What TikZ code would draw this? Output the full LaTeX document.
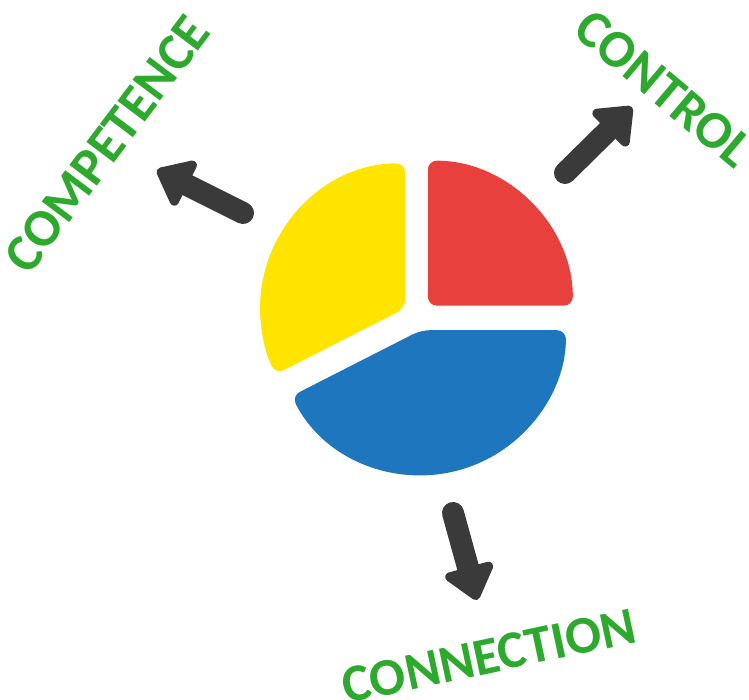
\documentclass[tikz,border=0pt]{standalone}
\usepackage{fontspec}
\setmainfont{Carlito}
\usepackage{xcolor}
\usepackage{tikz}
\usetikzlibrary{arrows.meta,positioning,calc}

\definecolor{pieyellow}{RGB}{255,228,0}
\definecolor{piered}{RGB}{232,64,60}
\definecolor{pieblue}{RGB}{30,118,190}
\definecolor{arrowgray}{RGB}{58,58,58}
\definecolor{labelgreen}{RGB}{45,170,45}

\tikzset{
    slice/.style={rounded corners=9pt},
    bigarrow/.style={draw=arrowgray, line width=22pt, line cap=round,
        -{Triangle[length=37pt,width=57pt,round]}},
    cword/.style={text=labelgreen, inner sep=0pt, font=\bfseries\fontsize{53}{53}\selectfont}
}

\begin{document}
\begin{tikzpicture}[x=1pt,y=1pt]
    \useasboundingbox (0,0) rectangle (749,700);

    % Exploded pie
    \coordinate (C) at (417.5,384);
    \foreach \col/\a/\b in {piered/0/90, pieyellow/90/207, pieblue/207/360}
        \fill[\col, slice] ($(C)+({(\a+\b)/2}:14.6)$) -- ++(\a:145)
            arc[start angle=\a, end angle=\b, radius=145] -- cycle;

    % Arrows
    \coordinate (comptail) at (243,487);
    \coordinate (comptip) at (157,530);
    \coordinate (ctrltail) at (565,527);
    \coordinate (ctrltip) at (632,593);
    \coordinate (conntail) at (453,187);
    \coordinate (conntip) at (477,100);
    \draw[bigarrow] (comptail) -- (comptip);
    \draw[bigarrow] (ctrltail) -- (ctrltip);
    \draw[bigarrow] (conntail) -- (conntip);

    % Labels
    \node[cword, rotate=53] (competence) at (107,556) {COMPETENCE};
    \node[cword, rotate=-40] (control) at (664,611) {CONTROL};
    \node[cword, rotate=12] (connection) at (489,44) {CONNECTION};
\end{tikzpicture}
\end{document}
